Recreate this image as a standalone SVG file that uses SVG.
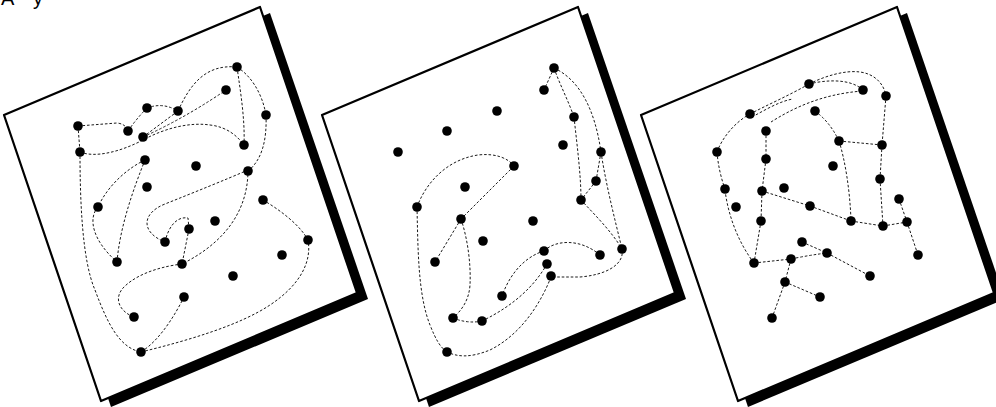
<svg xmlns="http://www.w3.org/2000/svg" xmlns:xlink="http://www.w3.org/1999/xlink" width="996" height="407" viewBox="0 0 996 407">
<style>
.face{fill:#fff;stroke:#000;stroke-width:2.2;stroke-linejoin:round}
.shadow{fill:#000}
.lk{fill:none;stroke:#1a1a1a;stroke-width:1;stroke-dasharray:2.6 1.9}
.dot{fill:#000}
.cap{font-family:"Liberation Sans",Arial,sans-serif;font-size:20px;fill:#000}
</style>
<defs>
<g id="panel">
<polygon class="shadow" points="10,6 266,-102 364,184 107,292"/>
<polygon class="face" points="0,0 256,-108 353,178 97,286"/>
</g>
</defs>
<rect width="996" height="407" fill="#fff"/>
<text class="cap" x="1" y="5">A<tspan x="33">y</tspan></text>
<g id="panel1">
<use xlink:href="#panel" href="#panel" x="4" y="115"/>
<g id="panel1-links" class="lk">
<path d="M78,126 L117,123 Q126,124 128,131"/>
<path d="M78,126 L80,152"/>
<path d="M128,131 Q137,118 147,108"/>
<path d="M147,108 Q163,102 178,111"/>
<path d="M178,111 C190,85 205,64 237,67"/>
<path d="M143,137 L178,111"/>
<path d="M143,137 Q185,118 226,90"/>
<path d="M80,152 C95,158 120,152 143,140 C165,128 190,122 210,125 C228,127 238,137 244,145"/>
<path d="M237,67 C241,95 245,120 244,145"/>
<path d="M237,67 C250,75 262,92 266,115"/>
<path d="M266,115 C267,140 262,160 248,171"/>
<path d="M145,160 C128,168 108,185 98,207"/>
<path d="M145,160 C135,185 120,225 117,262"/>
<path d="M98,207 C88,218 92,240 117,262"/>
<path d="M248,170 C225,180 195,192 165,204 C142,213 140,232 165,242"/>
<path d="M165,242 C168,228 176,216 188,218 L189,229"/>
<path d="M189,229 L182,264"/>
<path d="M248,170 C248,215 220,245 182,264"/>
<path d="M263,200 C280,210 300,225 308,240"/>
<path d="M182,264 C165,266 140,272 125,286 C112,298 120,312 134,317"/>
<path d="M184,297 C175,315 160,340 141,352"/>
<path d="M141,352 C190,340 240,325 270,305 C300,285 312,262 308,240"/>
<path d="M80,152 C80,200 82,260 95,290 C108,325 120,348 141,352"/>
</g>
<g id="panel1-nodes" class="dot">
<g id="a1"><circle cx="237" cy="67" r="4.8"/></g>
<g id="a2"><circle cx="226" cy="90" r="4.8"/></g>
<g id="a3"><circle cx="266" cy="115" r="4.8"/></g>
<g id="a4"><circle cx="147" cy="108" r="4.8"/></g>
<g id="a5"><circle cx="178" cy="111" r="4.8"/></g>
<g id="a6"><circle cx="78" cy="126" r="4.8"/></g>
<g id="a7"><circle cx="128" cy="131" r="4.8"/></g>
<g id="a8"><circle cx="143" cy="137" r="4.8"/></g>
<g id="a9"><circle cx="244" cy="145" r="4.8"/></g>
<g id="a10"><circle cx="80" cy="152" r="4.8"/></g>
<g id="a11"><circle cx="145" cy="160" r="4.8"/></g>
<g id="a12"><circle cx="196" cy="166" r="4.8"/></g>
<g id="a13"><circle cx="248" cy="171" r="4.8"/></g>
<g id="a14"><circle cx="147" cy="187" r="4.8"/></g>
<g id="a15"><circle cx="98" cy="207" r="4.8"/></g>
<g id="a16"><circle cx="263" cy="200" r="4.8"/></g>
<g id="a17"><circle cx="215" cy="221" r="4.8"/></g>
<g id="a18"><circle cx="189" cy="229" r="4.8"/></g>
<g id="a19"><circle cx="165" cy="242" r="4.8"/></g>
<g id="a20"><circle cx="308" cy="240" r="4.8"/></g>
<g id="a21"><circle cx="282" cy="255" r="4.8"/></g>
<g id="a22"><circle cx="117" cy="262" r="4.8"/></g>
<g id="a23"><circle cx="182" cy="264" r="4.8"/></g>
<g id="a24"><circle cx="233" cy="276" r="4.8"/></g>
<g id="a25"><circle cx="184" cy="297" r="4.8"/></g>
<g id="a26"><circle cx="134" cy="317" r="4.8"/></g>
<g id="a27"><circle cx="141" cy="352" r="4.8"/></g>
</g>
</g>
<g id="panel2">
<use xlink:href="#panel" href="#panel" x="322" y="115"/>
<g id="panel2-links" class="lk">
<path d="M554,68 L544,90"/>
<path d="M554,68 C560,85 568,100 574,117"/>
<path d="M554,68 C580,80 595,110 601,152"/>
<path d="M574,117 C577,145 581,175 581,200"/>
<path d="M601,152 L596,181"/>
<path d="M601,152 C606,185 615,220 622,249"/>
<path d="M596,181 L581,200"/>
<path d="M581,200 C595,215 612,232 622,249"/>
<path d="M622,249 C625,265 605,275 580,277 L551,277"/>
<path d="M544,251 C555,240 580,238 600,255"/>
<path d="M544,251 C530,255 512,268 502,296"/>
<path d="M547,264 C535,285 515,305 482,321"/>
<path d="M551,277 C540,305 520,335 490,350 C470,358 458,357 447,352"/>
<path d="M453,318 Q468,324 482,321"/>
<path d="M461,219 C468,240 471,265 470,285 C469,300 462,310 453,318"/>
<path d="M461,219 L435,262"/>
<path d="M461,219 C475,205 495,185 514,166"/>
<path d="M417,207 C425,185 445,160 478,155 C495,153 508,158 514,166"/>
<path d="M417,207 C418,250 418,295 430,325 C436,340 440,347 447,352"/>
</g>
<g id="panel2-nodes" class="dot">
<g id="b1"><circle cx="554" cy="68" r="4.8"/></g>
<g id="b2"><circle cx="544" cy="90" r="4.8"/></g>
<g id="b3"><circle cx="497" cy="111" r="4.8"/></g>
<g id="b4"><circle cx="574" cy="117" r="4.8"/></g>
<g id="b5"><circle cx="447" cy="131" r="4.8"/></g>
<g id="b6"><circle cx="563" cy="145" r="4.8"/></g>
<g id="b7"><circle cx="601" cy="152" r="4.8"/></g>
<g id="b8"><circle cx="398" cy="152" r="4.8"/></g>
<g id="b9"><circle cx="514" cy="166" r="4.8"/></g>
<g id="b10"><circle cx="596" cy="181" r="4.8"/></g>
<g id="b11"><circle cx="465" cy="187" r="4.8"/></g>
<g id="b12"><circle cx="581" cy="200" r="4.8"/></g>
<g id="b13"><circle cx="417" cy="207" r="4.8"/></g>
<g id="b14"><circle cx="461" cy="219" r="4.8"/></g>
<g id="b15"><circle cx="533" cy="221" r="4.8"/></g>
<g id="b16"><circle cx="483" cy="241" r="4.8"/></g>
<g id="b17"><circle cx="622" cy="249" r="4.8"/></g>
<g id="b18"><circle cx="544" cy="251" r="4.8"/></g>
<g id="b19"><circle cx="600" cy="255" r="4.8"/></g>
<g id="b20"><circle cx="547" cy="264" r="4.8"/></g>
<g id="b21"><circle cx="435" cy="262" r="4.8"/></g>
<g id="b22"><circle cx="551" cy="276" r="4.8"/></g>
<g id="b23"><circle cx="502" cy="296" r="4.8"/></g>
<g id="b24"><circle cx="453" cy="318" r="4.8"/></g>
<g id="b25"><circle cx="482" cy="321" r="4.8"/></g>
<g id="b26"><circle cx="447" cy="352" r="4.8"/></g>
</g>
</g>
<g id="panel3">
<use xlink:href="#panel" href="#panel" x="641" y="115"/>
<g id="panel3-links" class="lk">
<path d="M750,114 C765,106 790,95 809,84"/>
<path d="M752,117 C765,110 780,101 793,99"/>
<path d="M771,122 C790,110 820,94 863,91"/>
<path d="M809,84 C825,80 850,78 863,90"/>
<path d="M809,84 C825,76 845,70 860,72 C875,74 884,84 886,96"/>
<path d="M717,152 C722,138 735,122 750,114"/>
<path d="M717,152 C718,165 721,178 725,189"/>
<path d="M766,131 L766,159"/>
<path d="M766,159 L762,191"/>
<path d="M815,111 Q830,122 839,141"/>
<path d="M839,141 L882,145"/>
<path d="M886,96 L882,145"/>
<path d="M882,145 L880,179"/>
<path d="M839,141 C845,160 850,190 851,221"/>
<path d="M880,179 L883,226"/>
<path d="M762,191 L761,221"/>
<path d="M762,191 L810,206"/>
<path d="M810,206 L851,221"/>
<path d="M851,221 L883,226"/>
<path d="M883,226 L907,222"/>
<path d="M899,199 L907,222"/>
<path d="M907,222 L918,255"/>
<path d="M761,221 L754,263"/>
<path d="M725,190 C728,215 738,242 754,263"/>
<path d="M754,263 L791,259"/>
<path d="M791,259 Q810,255 827,253"/>
<path d="M802,242 L827,253"/>
<path d="M827,253 L870,276"/>
<path d="M791,259 L785,282"/>
<path d="M785,282 L820,297"/>
<path d="M785,282 L772,318"/>
</g>
<g id="panel3-nodes" class="dot">
<g id="c1"><circle cx="809" cy="84" r="4.8"/></g>
<g id="c2"><circle cx="863" cy="90" r="4.8"/></g>
<g id="c3"><circle cx="886" cy="96" r="4.8"/></g>
<g id="c4"><circle cx="750" cy="114" r="4.8"/></g>
<g id="c5"><circle cx="815" cy="111" r="4.8"/></g>
<g id="c6"><circle cx="766" cy="131" r="4.8"/></g>
<g id="c7"><circle cx="839" cy="141" r="4.8"/></g>
<g id="c8"><circle cx="882" cy="145" r="4.8"/></g>
<g id="c9"><circle cx="717" cy="152" r="4.8"/></g>
<g id="c10"><circle cx="766" cy="159" r="4.8"/></g>
<g id="c11"><circle cx="833" cy="166" r="4.8"/></g>
<g id="c12"><circle cx="880" cy="179" r="4.8"/></g>
<g id="c13"><circle cx="725" cy="189" r="4.8"/></g>
<g id="c14"><circle cx="762" cy="191" r="4.8"/></g>
<g id="c15"><circle cx="784" cy="188" r="4.8"/></g>
<g id="c16"><circle cx="736" cy="207" r="4.8"/></g>
<g id="c17"><circle cx="899" cy="199" r="4.8"/></g>
<g id="c18"><circle cx="810" cy="206" r="4.8"/></g>
<g id="c19"><circle cx="761" cy="221" r="4.8"/></g>
<g id="c20"><circle cx="851" cy="221" r="4.8"/></g>
<g id="c21"><circle cx="883" cy="226" r="4.8"/></g>
<g id="c22"><circle cx="907" cy="222" r="4.8"/></g>
<g id="c23"><circle cx="802" cy="242" r="4.8"/></g>
<g id="c24"><circle cx="827" cy="253" r="4.8"/></g>
<g id="c25"><circle cx="754" cy="263" r="4.8"/></g>
<g id="c26"><circle cx="791" cy="259" r="4.8"/></g>
<g id="c27"><circle cx="918" cy="255" r="4.8"/></g>
<g id="c28"><circle cx="870" cy="276" r="4.8"/></g>
<g id="c29"><circle cx="785" cy="282" r="4.8"/></g>
<g id="c30"><circle cx="820" cy="297" r="4.8"/></g>
<g id="c31"><circle cx="772" cy="318" r="4.8"/></g>
</g>
</g>
</svg>
